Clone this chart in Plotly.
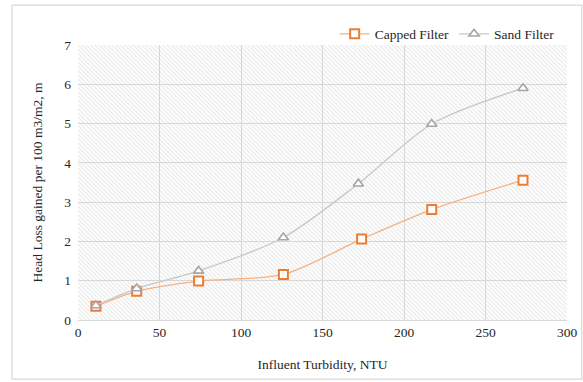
import plotly.graph_objects as go

turbidity_capped = [11, 36, 74, 126, 174, 217, 273]
headloss_capped = [0.35, 0.73, 0.99, 1.16, 2.06, 2.81, 3.56]
turbidity_sand = [11, 36, 74, 126, 172, 217, 273]
headloss_sand = [0.37, 0.80, 1.25, 2.10, 3.47, 4.99, 5.90]

x_range = [0, 300]
y_range = [0, 7]
x_ticks = [0, 50, 100, 150, 200, 250, 300]
y_ticks = [0, 1, 2, 3, 4, 5, 6, 7]

FONT = "Liberation Serif, serif"

fig = go.Figure()

# hatched plot-area background (transparent bg so gridlines show through)
fig.add_trace(go.Scatter(
    x=[x_range[0], x_range[1], x_range[1], x_range[0], x_range[0]],
    y=[y_range[0], y_range[0], y_range[1], y_range[1], y_range[0]],
    mode="lines", line=dict(width=0), fill="toself",
    fillcolor="rgba(255,255,255,0)",
    fillpattern=dict(shape="\\", fgcolor="#cccccc", bgcolor="rgba(0,0,0,0)",
                     size=3, solidity=0.35),
    showlegend=False, hoverinfo="skip"))

fig.add_trace(go.Scatter(
    x=turbidity_capped, y=headloss_capped, name="Capped Filter",
    mode="lines+markers",
    line=dict(color="#F4B183", width=1.3, shape="spline", smoothing=0.8),
    marker=dict(symbol="square", size=9, color="white",
                line=dict(color="#ED7D31", width=2))))

fig.add_trace(go.Scatter(
    x=turbidity_sand, y=headloss_sand, name="Sand Filter",
    mode="lines+markers",
    line=dict(color="#C8C8C8", width=1.3, shape="spline", smoothing=0.8),
    marker=dict(symbol="triangle-up", size=9, color="white",
                line=dict(color="#A5A5A5", width=1.6))))

fig.update_layout(
    width=583, height=382,
    margin=dict(l=78, r=16, t=45, b=62),
    paper_bgcolor="white", plot_bgcolor="white",
    font=dict(family=FONT, size=13.5, color="#262626"),
    legend=dict(orientation="h", x=0.985, xanchor="right", y=1.04,
                yanchor="middle", font=dict(size=13.5, family=FONT),
                bgcolor="rgba(0,0,0,0)", itemwidth=30, tracegroupgap=0),
    xaxis=dict(range=x_range, tickvals=x_ticks, showgrid=True,
               gridcolor="#D9D9D9", gridwidth=1.3, zeroline=False,
               showline=True, linecolor="#D9D9D9", linewidth=1.3,
               automargin=False,
               ticks="", title=dict(text="Influent Turbidity, NTU",
                                    font=dict(size=13.5, family=FONT), standoff=20),
               tickfont=dict(size=13.5, family=FONT)),
    yaxis=dict(range=y_range, tickvals=y_ticks, showgrid=True,
               gridcolor="#D9D9D9", gridwidth=1.3, zeroline=False,
               showline=False, ticks="", automargin=False,
               ticklabelstandoff=6,
               title=dict(text="Head Loss gained per 100 m3/m2, m",
                          font=dict(size=13.5, family=FONT), standoff=18),
               tickfont=dict(size=13.5, family=FONT)),
    shapes=[dict(type="rect", xref="paper", yref="paper",
                 x0=-0.135, x1=1.03, y0=-0.215, y1=1.145,
                 line=dict(color="#D9D9D9", width=1.2),
                 fillcolor="rgba(0,0,0,0)", layer="below")],
)

fig.write_html("out.html")
